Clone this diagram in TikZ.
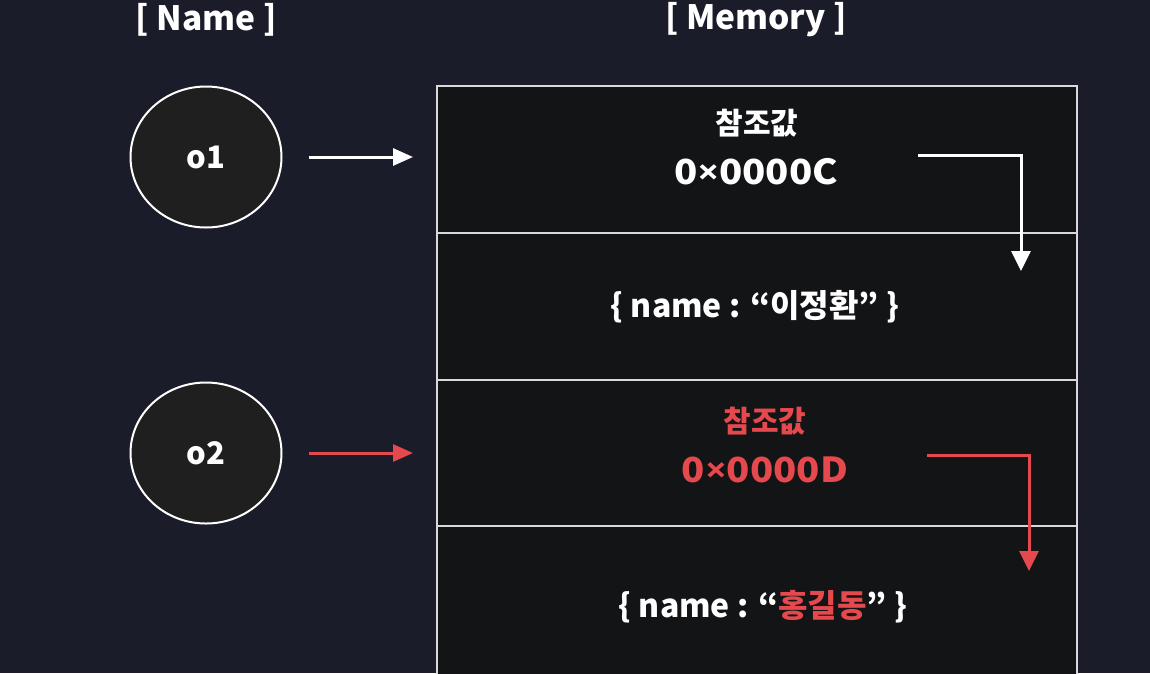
\documentclass[tikz,border=0pt]{standalone}
\usepackage{fontspec}
\setmainfont{Noto Sans CJK KR}
\newfontfamily\latinf{Open Sans}
\usetikzlibrary{arrows.meta,shapes.geometric}
\definecolor{bg}{HTML}{1B1C2A}
\definecolor{cell}{HTML}{121416}
\definecolor{circ}{HTML}{1F1F1F}
\definecolor{accent}{HTML}{E5484D}
\definecolor{edge}{HTML}{D9D9D9}
\newcommand{\tms}{{\latinf\bfseries ×}}
\newcommand{\wide}[1]{\scalebox{1.11}[1]{#1}}
\begin{document}
\begin{tikzpicture}[x=1pt,y=-1pt,
  cellbox/.style={draw=edge, line width=1.5pt, fill=cell, minimum width=640pt, minimum height=147pt, inner sep=0pt, anchor=north west},
  namecirc/.style={ellipse, draw=white, line width=2pt, fill=circ, minimum width=151pt, minimum height=141pt, inner sep=0pt, text=white, font=\fontsize{31}{36}\selectfont\bfseries},
  head/.style={text=white, font=\fontsize{33.5}{38}\selectfont\bfseries},
  reflbl/.style={font=\fontsize{30}{34}\selectfont\bfseries},
  addr/.style={font=\fontsize{34.5}{40}\selectfont\bfseries},
  obj/.style={text=white, font=\fontsize{32}{38}\selectfont\bfseries},
  ptr/.style={-{Triangle[length=20pt,width=17pt]}, line width=3pt},
  elbow/.style={-{Triangle[length=20pt,width=19pt]}, line width=3pt},
]
\useasboundingbox (0,0) rectangle (1150,673);
\clip (0,0) rectangle (1150,673);
\fill[bg] (0,0) rectangle (1150,673);

\node[head] (hname) at (206,20) {[ Name ]};
\node[head] (hmem) at (756,20) {[ Memory ]};

\node[cellbox] (m1) at (436,85) {};
\node[cellbox] (m2) at (436,232) {};
\node[cellbox] (m3) at (436,379) {};
\node[cellbox, minimum height=170pt] (m4) at (436,525) {};

\node[namecirc] (o1) at (206,157) {o1};
\node[namecirc] (o2) at (206,453) {o2};

\node[reflbl, text=white] (ref1) at (757,123) {참조값};
\node[addr, text=white] (addr1) at (756,172) {\wide{0\tms0000C}};
\node[obj] (obj1) at (755,307) {\{ name : “이정환” \}};

\node[reflbl, text=accent] (ref2) at (765,421) {참조값};
\node[addr, text=accent] (addr2) at (765,470) {\wide{0\tms0000D}};
\node[obj] (obj2) at (763,607) {\{ name : “\textcolor{accent}{홍길동}” \}};

\draw[ptr, white, shorten <=26pt, shorten >=23pt] (o1.east) -- (o1.east -| m1.west);
\draw[ptr, accent, shorten <=26pt, shorten >=23pt] (o2.east) -- (o2.east -| m3.west);

\coordinate (s1) at (918,155);
\coordinate (e1) at (1021,271);
\draw[elbow, white] (s1) -| (e1);
\coordinate (s2) at (927,455);
\coordinate (e2) at (1029,571);
\draw[elbow, accent] (s2) -| (e2);
\end{tikzpicture}
\end{document}
